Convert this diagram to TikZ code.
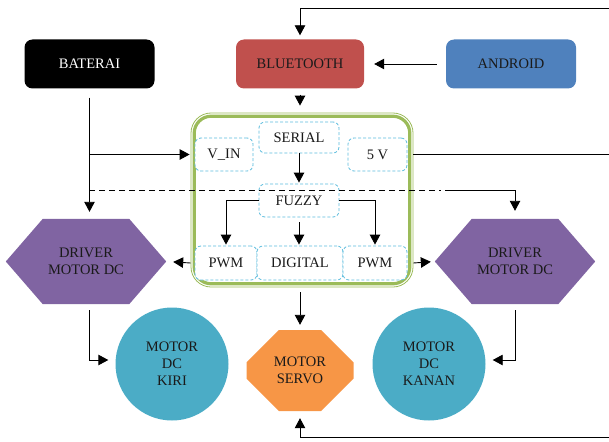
\documentclass[tikz,border=0pt]{standalone}
\usepackage{fontspec}
\setmainfont{Liberation Serif}
\usetikzlibrary{arrows.meta,shapes.misc,shapes.geometric,backgrounds}
\definecolor{cbat}{HTML}{000000}
\definecolor{cblue}{HTML}{C0504D}
\definecolor{cand}{HTML}{4F81BD}
\definecolor{cdrv}{HTML}{8064A2}
\definecolor{cmot}{HTML}{4BACC6}
\definecolor{csrv}{HTML}{F79646}
\definecolor{cgrn}{HTML}{9BBB59}
\definecolor{cdash}{HTML}{5BBCDD}
\definecolor{ctxt}{HTML}{1A1A1A}
\begin{document}
\begin{tikzpicture}[x=1pt,y=-1pt,
  every node/.style={font=\fontsize{14.5}{17}\selectfont, text=ctxt, align=center, inner sep=0pt},
  topbox/.style={rounded corners=8pt, minimum width=130pt, minimum height=49pt},
  sub/.style={draw=cdash, dash pattern=on 3pt off 2pt, line width=0.8pt, rounded corners=6pt, fill=white},
  hexa/.style={minimum width=160pt, minimum height=85pt},
  mot/.style={circle, fill=cmot, minimum size=113pt},
  arr/.style={line width=0.9pt, -{Triangle[length=10pt,width=10.5pt]}},
  ln/.style={line width=0.9pt}]
\useasboundingbox (0,0) rectangle (609,441);

% top row
\node[topbox, fill=cbat, text=white] (bat) at (89.5,64) {BATERAI};
\node[topbox, fill=cblue, minimum width=128pt] (blue) at (300,64) {BLUETOOTH};
\node[topbox, fill=cand] (and) at (511,64) {ANDROID};

% microcontroller box
\node[draw=cgrn, line width=0.8pt, rounded corners=20pt, minimum width=222pt, minimum height=174pt] (mcu) at (302,200) {};
\draw[cgrn, line width=3.2pt, rounded corners=17pt] ([shift={(3.6,3.6)}]mcu.north west) rectangle ([shift={(-3.6,-3.6)}]mcu.south east);

\node[sub, minimum width=80pt, minimum height=31pt] (serial) at (299,137.5) {SERIAL};
\node[sub, minimum width=58pt, minimum height=33pt] (vin) at (224,154.5) {V\_IN};
\node[sub, minimum width=59pt, minimum height=33pt] (fivev) at (377.5,154.5) {5 V};
\node[sub, minimum width=80pt, minimum height=33pt] (fuzzy) at (299,200.5) {FUZZY};
\node[sub, minimum width=62pt, minimum height=34pt] (pwmL) at (226,263) {PWM};
\node[sub, minimum width=86pt, minimum height=34pt] (digital) at (300,263) {DIGITAL};
\node[sub, minimum width=64pt, minimum height=34pt] (pwmR) at (375,263) {PWM};

% drivers
\node[hexa] (drvL) at (86,261.5) {DRIVER\\MOTOR DC};
\node[hexa] (drvR) at (515,261.5) {DRIVER\\MOTOR DC};
\begin{scope}[on background layer]
\foreach \d in {drvL,drvR}{
  \fill[cdrv] (\d.west) -- ([xshift=37pt]\d.north west) -- ([xshift=-37pt]\d.north east) -- (\d.east)
    -- ([xshift=-37pt]\d.south east) -- ([xshift=37pt]\d.south west) -- cycle;
}
\end{scope}

% motors
\node[mot] (kiri) at (172,364) {MOTOR\\DC\\KIRI};
\node[mot] (kanan) at (429,364) {MOTOR\\DC\\KANAN};
\node[chamfered rectangle, chamfered rectangle xsep=24pt, chamfered rectangle ysep=19pt, fill=csrv,
  minimum width=107pt, minimum height=81pt] (servo) at (300,370.5) {MOTOR\\SERVO};

% coordinates for free ends
\coordinate (rtop) at (609,8);
\coordinate (r5v) at (609,154);
\coordinate (rbot) at (609,437);
\coordinate (j1) at (bat.south |- vin.west);
\coordinate (j2) at (89,190.5);
\coordinate (dsh) at (441,190.5);

% connectors
\draw[arr, shorten >=4pt] (rtop) -| (blue.north);
\draw[arr, shorten <=9pt, shorten >=10pt] (and.west) -- (blue.east);
\draw[arr, shorten <=6pt, shorten >=7pt] (blue.south) -- (blue.south |- mcu.north);
\draw[arr, shorten <=9pt, shorten >=7pt] (bat.south) -- (bat.south |- drvL.north);
\draw[arr, shorten >=1pt] (j1) -- (j1 -| mcu.west);
\draw[ln, dashed, dash pattern=on 6pt off 4pt] (j2) -- (dsh);
\draw[arr, shorten >=8pt] ([xshift=4pt]dsh) -| (drvR.north);
\draw[ln] (r5v -| mcu.east) -- (r5v);

\draw[arr, shorten >=1pt] (serial.south) -- (fuzzy.north);
\draw[arr, shorten >=1pt] (fuzzy.west) -| (pwmL.north);
\draw[arr, shorten >=1pt] (fuzzy.east) -| (pwmR.north);
\draw[arr, shorten <=5pt, shorten >=1pt] (fuzzy.south) -- (fuzzy.south |- digital.north);

\draw[arr, shorten >=7pt] (mcu.west |- pwmL.west) -- (drvL.east);
\draw[arr, shorten >=4pt] (mcu.east |- pwmR.east) -- (drvR.west);
\draw[arr, shorten <=5pt, shorten >=5pt] (mcu.south -| servo.north) -- (servo.north);

\draw[arr, shorten <=6pt, shorten >=7pt] (drvL.south -| bat.south) |- ([yshift=4pt]kiri.west);
\draw[arr, shorten <=6pt, shorten >=7pt] (drvR.south) |- ([yshift=4pt]kanan.east);
\draw[arr, shorten >=7pt] (rbot) -| (servo.south);
\end{tikzpicture}
\end{document}
